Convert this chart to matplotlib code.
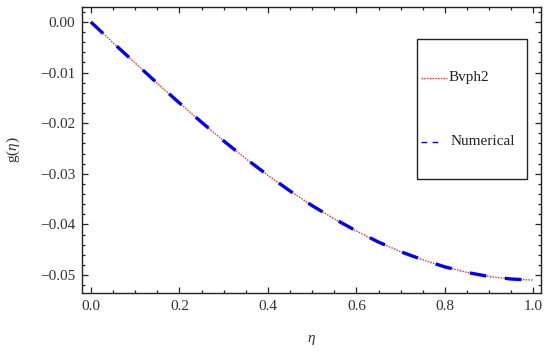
import matplotlib
matplotlib.use("Agg")
import matplotlib.pyplot as plt
from matplotlib.ticker import MultipleLocator, FuncFormatter
from matplotlib.patches import Rectangle
from matplotlib.lines import Line2D

# ---- data ----
eta = [0.00, 0.05, 0.10, 0.15, 0.20, 0.25, 0.30, 0.35, 0.40, 0.45, 0.50,
       0.55, 0.60, 0.65, 0.70, 0.75, 0.80, 0.85, 0.90, 0.95, 1.00]
g_bvph2 = [0.0, -0.0041, -0.0081, -0.0121, -0.0160, -0.0198, -0.0235, -0.0270,
           -0.0303, -0.0334, -0.0363, -0.0389, -0.0413, -0.0435, -0.0454,
           -0.0470, -0.0484, -0.0495, -0.0503, -0.0508, -0.0510]
g_numerical = [0.0, -0.0041, -0.0081, -0.0121, -0.0160, -0.0198, -0.0235, -0.0270,
               -0.0303, -0.0334, -0.0363, -0.0389, -0.0413, -0.0435, -0.0454,
               -0.0470, -0.0484, -0.0495, -0.0503, -0.0508, -0.0510]
series_labels = ["Bvph2", "Numerical"]

plt.rcParams['lines.scale_dashes'] = False
plt.rcParams['mathtext.fontset'] = 'custom'
plt.rcParams['mathtext.rm'] = 'Liberation Serif'
plt.rcParams['mathtext.it'] = 'Liberation Serif:italic'
plt.rcParams['font.family'] = ['Liberation Serif', 'DejaVu Serif']

fig = plt.figure(figsize=(5.5, 3.52), dpi=100)
ax = fig.add_axes([82/550, 1-293/352, (541-82)/550, (293-7)/352])

ax.plot(eta, g_bvph2, color='#ff2020', lw=1.0, linestyle=(0, (1.0, 1.0)), zorder=2)
ax.plot(eta, g_numerical, color='#0000ff', lw=2.4, linestyle=(0, (12.0, 13.5)),
        solid_capstyle='butt', dash_capstyle='butt', zorder=3)

ax.set_xlim(-0.020, 1.017)
ax.set_ylim(-0.05356, 0.00296)

def fmt(decimals):
    def f(v, pos):
        s = f"{abs(v):.{decimals}f}"
        if round(v, decimals) < 0:
            s = "\u2212" + s
        return s
    return FuncFormatter(f)

ax.xaxis.set_major_locator(MultipleLocator(0.2))
ax.xaxis.set_minor_locator(MultipleLocator(0.05))
ax.yaxis.set_major_locator(MultipleLocator(0.01))
ax.yaxis.set_minor_locator(MultipleLocator(0.002))
ax.xaxis.set_major_formatter(fmt(1))
ax.yaxis.set_major_formatter(fmt(2))

ax.tick_params(which='both', direction='in', top=True, right=True,
               color='#222222', width=0.9, labelsize=11, labelcolor='#333333')
ax.tick_params(which='major', length=4.5, pad=5)
ax.tick_params(which='minor', length=2.5)
for s in ax.spines.values():
    s.set_linewidth(1.0)
    s.set_color('#222222')

fig.text((82+541)/2/550, 1-340/352, r'$\eta$', ha='center', va='center',
         fontsize=11, color='#333333')
fig.text(13/550, 1-150/352, r'$\mathrm{g}(\eta)$', ha='center', va='center',
         rotation=90, fontsize=11, color='#333333')

# ---- legend box ----
def ax_x(px):
    return (px-82)/459
def ax_y(py):
    return (293-py)/286

ax.add_patch(Rectangle((ax_x(417), ax_y(179)), ax_x(527)-ax_x(417), ax_y(39)-ax_y(179),
                       transform=ax.transAxes, fill=True, facecolor='white',
                       edgecolor='#222222', lw=1.0, zorder=5))
ax.add_line(Line2D([ax_x(421), ax_x(447)], [ax_y(78), ax_y(78)], transform=ax.transAxes,
                   color='#ff2020', lw=1.0, linestyle=(0, (1.0, 1.0)), zorder=6))
ax.add_line(Line2D([ax_x(421), ax_x(442)], [ax_y(142), ax_y(142)], transform=ax.transAxes,
                   color='#0000ff', lw=1.0, linestyle=(0, (4.0, 4.0)), zorder=6))
ax.text(ax_x(449), ax_y(78), series_labels[0], transform=ax.transAxes,
        ha='left', va='center', fontsize=11, color='#222222', zorder=7)
ax.text(ax_x(451), ax_y(142), series_labels[1], transform=ax.transAxes,
        ha='left', va='center', fontsize=11, color='#222222', zorder=7)

fig.savefig('out.png', dpi=100)
